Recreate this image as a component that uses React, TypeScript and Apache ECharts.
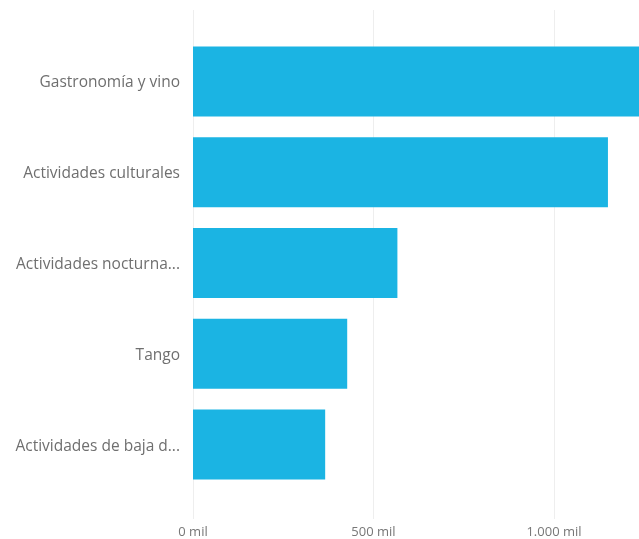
import React, { useEffect, useRef } from "react";
import * as echarts from "echarts";

const categories = [
  "Gastronomía y vino",
  "Actividades culturales",
  "Actividades nocturna...",
  "Tango",
  "Actividades de baja d...",
];
const values = [1235, 1149, 566, 427, 366];
const tickValues = [0, 500, 1000];

const fmt = (v: number) =>
  v >= 1000 ? `${Math.floor(v / 1000)}.${String(v % 1000).padStart(3, "0")} mil` : `${v} mil`;

export default function App() {
  const ref = useRef<HTMLDivElement>(null);
  useEffect(() => {
    if (!ref.current) return;
    document.body.style.margin = "0";
    document.body.style.overflow = "hidden";
    const chart = echarts.init(ref.current, undefined, { renderer: "svg" });
    const font = "'Segoe UI', 'Open Sans', sans-serif";
    chart.setOption({
      animation: false,
      grid: [
        { left: 193, right: 0, top: 36, bottom: 49 },
        { left: 193, width: 361, top: 10, bottom: 20 },
      ],
      xAxis: [
        {
          gridIndex: 0,
          type: "value",
          min: 0,
          max: "dataMax",
          show: false,
        },
        {
          gridIndex: 1,
          type: "value",
          min: tickValues[0],
          max: tickValues[tickValues.length - 1],
          interval: 500,
          axisLine: { show: false },
          axisTick: { show: false },
          splitLine: { show: true, lineStyle: { color: "#eeeeee", width: 1 } },
          axisLabel: {
            margin: 5,
            color: "#777777",
            fontSize: 13,
            fontFamily: font,
            formatter: (v: number) => fmt(v),
          },
        },
      ],
      yAxis: [
        {
          gridIndex: 0,
          type: "category",
          data: categories,
          inverse: true,
          axisLine: { show: false },
          axisTick: { show: false },
          splitLine: { show: false },
          axisLabel: {
            margin: 13,
            color: "#6f6f6f",
            fontSize: 15.5,
            fontFamily: font,
          },
        },
        {
          gridIndex: 1,
          type: "value",
          show: false,
        },
      ],
      series: [
        {
          type: "bar",
          xAxisIndex: 0,
          yAxisIndex: 0,
          data: values,
          barWidth: 70,
          itemStyle: { color: "#1BB4E3" },
          z: 3,
        },
      ],
    });
    return () => chart.dispose();
  }, []);
  return (
    <div
      ref={ref}
      style={{ position: "fixed", left: 0, top: 0, width: 639, height: 539 }}
    />
  );
}
